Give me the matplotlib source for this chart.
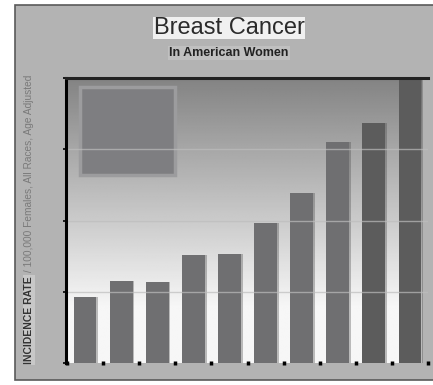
import numpy as np
import matplotlib
matplotlib.use("Agg")
import matplotlib.pyplot as plt
from matplotlib.patches import Rectangle

# ---- data ----
groups = ["1", "2", "3", "4", "5", "6", "7", "8", "9", "10"]
incidence = [0.93, 1.15, 1.13, 1.51, 1.53, 1.97, 2.38, 3.10, 3.37, 4.10]
bar_colors = ["#6f6f71"] * 8 + ["#5c5c5c", "#5c5c5c"]
title = "Breast Cancer"
subtitle = "In American Women"
ylabel_bold = "INCIDENCE RATE"
ylabel_rest = " / 100,000 Females, All Races, Age Adjusted"

FAM = ["Liberation Sans", "DejaVu Sans"]

W, H = 433, 385
fig = plt.figure(figsize=(W / 100, H / 100), dpi=100)
fig.patch.set_facecolor("white")

def fx(px):
    return px / W

def fy(py):
    return 1 - py / H

# outer panel
panel = Rectangle((fx(15), fy(380)), fx(440) - fx(15), fy(5) - fy(380),
                  transform=fig.transFigure, facecolor="#b3b3b3",
                  edgecolor="#5a5a5a", linewidth=1.2, zorder=-5)
fig.patches.append(panel)

ax_l, ax_r, ax_t, ax_b = 66, 428, 78, 363
ax = fig.add_axes([fx(ax_l), fy(ax_b), fx(ax_r) - fx(ax_l), fy(ax_t) - fy(ax_b)])
ax.set_zorder(2)
ax.set_facecolor("none")

x = np.arange(len(groups))
ax.set_xlim(-0.53, 9.33)
ax.set_ylim(0, 4)

# gradient background
t = np.linspace(0, 1, 256)  # 0 = bottom, 1 = top
vals = np.where(t < 0.2, 0.965, 0.965 - (t - 0.2) / 0.8 * 0.45)
grad = np.repeat(vals[:, None], 2, axis=1)
ax.imshow(grad, cmap="gray", vmin=0, vmax=1, origin="lower", aspect="auto",
          extent=[-0.53, 9.33, 0, 4], zorder=0, interpolation="bilinear")

# translucent square
ax.add_patch(Rectangle((0.039, 0.66), 0.261, 0.308, transform=ax.transAxes,
                       facecolor="#7e7e81", edgecolor="#9c9c9e", linewidth=2.5,
                       zorder=1))

# bar shadows + bars
ax.bar(x + 0.05, incidence, width=0.63, color="#4a4a4a", alpha=0.35, zorder=2)
ax.bar(x, incidence, width=0.63, color=bar_colors, zorder=3)

# grid lines
for g in [1, 2, 3]:
    ax.axhline(g, color="#bdbdbd", linewidth=1.0, alpha=0.7, zorder=4)

# spines
for s in ["right", "bottom"]:
    ax.spines[s].set_visible(False)
ax.spines["left"].set_linewidth(2.2)
ax.spines["left"].set_color("black")
ax.spines["top"].set_linewidth(2.2)
ax.spines["top"].set_color("#222222")
ax.spines["left"].set_zorder(6)
ax.spines["top"].set_zorder(6)

ax.set_xticks(np.append([-0.5], x + 0.5))
ax.set_xticklabels([])
ax.tick_params(axis="x", direction="inout", length=2.5, width=2.5, color="black")
ax.set_yticks([0, 1, 2, 3, 4])
ax.set_yticklabels([])
ax.tick_params(axis="y", direction="out", length=2.5, width=1.2, color="black")

# titles
fig.text(fx(229), fy(28), title, ha="center", va="center", fontsize=17,
         family=FAM, color="#2b2b2b",
         bbox=dict(boxstyle="square,pad=0.02", facecolor="#f0f0f0", edgecolor="none"))
fig.text(fx(229), fy(53), subtitle, ha="center", va="center", fontsize=9,
         family=FAM, fontweight="bold", color="#222222",
         bbox=dict(boxstyle="square,pad=0.1", facecolor="#c0c0c0", edgecolor="none"))

# y label in two parts
t1 = fig.text(fx(29), fy(364), ylabel_bold, rotation=90, ha="center", va="bottom",
              fontsize=7.5, family=FAM, fontweight="bold", color="#333333",
              bbox=dict(boxstyle="square,pad=0.1", facecolor="#c8c8c8", edgecolor="none"))
fig.canvas.draw()
bb = t1.get_window_extent(renderer=fig.canvas.get_renderer())
fig.text(fx(29), bb.y1 / H + 0.002, ylabel_rest, rotation=90, ha="center", va="bottom",
         fontsize=7.3, family=FAM, color="#7a7a7a")

fig.savefig("out.png", dpi=100)
